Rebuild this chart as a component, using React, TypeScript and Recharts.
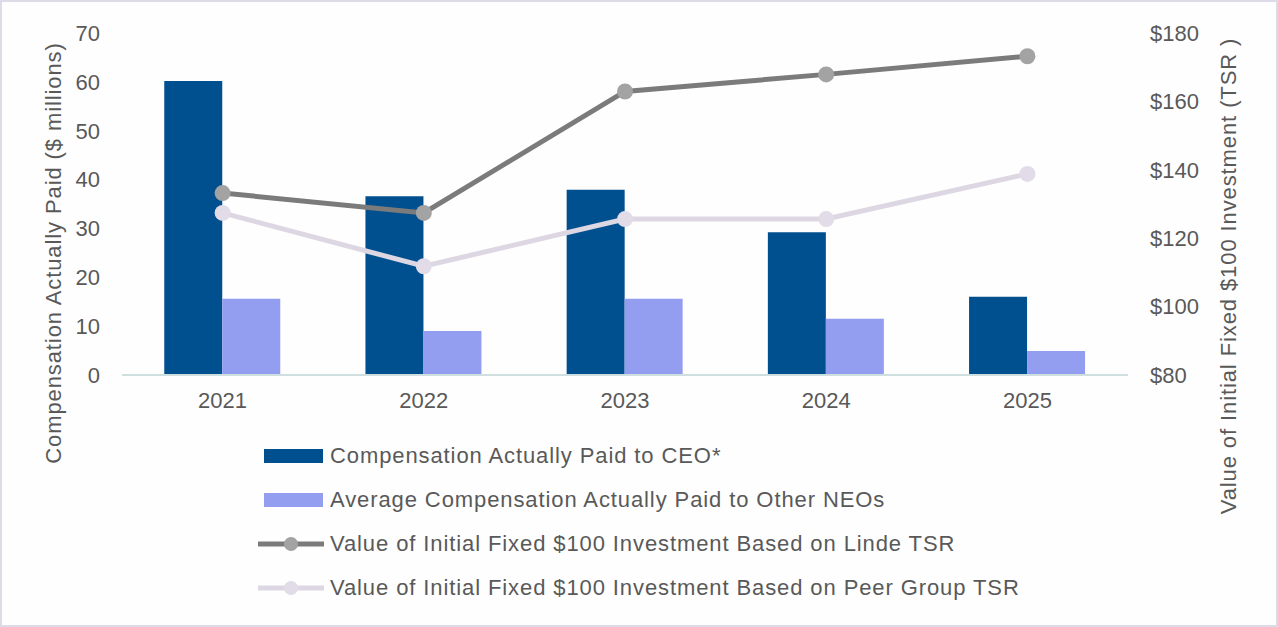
import React from 'react';
import {
    ComposedChart,
    Bar,
    Line,
    XAxis,
    YAxis,
    Legend,
} from 'recharts';

// fiscal years on the x axis
const years = ['2021', '2022', '2023', '2024', '2025'];

// compensation actually paid, $ millions (left axis)
const ceoPay = [60.2, 36.6, 37.9, 29.2, 16.0];
const neoPay = [15.6, 9.0, 15.6, 11.5, 4.9];

// value of $100 investment (right axis)
const lindeTsr = [133.2, 127.4, 162.9, 167.9, 173.2];
const peerTsr = [127.4, 111.8, 125.6, 125.6, 138.8];

const leftTicks = [0, 10, 20, 30, 40, 50, 60, 70];
const rightTicks = [80, 100, 120, 140, 160, 180];

const seriesNames = {
    ceo: 'Compensation Actually Paid to CEO*',
    neo: 'Average Compensation Actually Paid to Other NEOs',
    linde: 'Value of Initial Fixed $100 Investment Based on Linde TSR',
    peer: 'Value of Initial Fixed $100 Investment Based on Peer Group TSR',
};

const COLORS = {
    ceo: '#004f8f',
    neo: '#939ef0',
    linde: '#7b7b7b',
    lindeDot: '#a3a3a3',
    peer: '#dcd7e2',
    peerDot: '#e1dce7',
    text: '#595959',
    axis: '#cfdfe0',
};

const FONT = 'Liberation Sans, Arial, sans-serif';
const FONT_SIZE = 22;

const data = years.map((year, i) => ({
    year,
    ceo: ceoPay[i],
    neo: neoPay[i],
    linde: lindeTsr[i],
    peer: peerTsr[i],
}));

const legendItems = [
    { key: 'ceo', kind: 'bar', color: COLORS.ceo },
    { key: 'neo', kind: 'bar', color: COLORS.neo },
    { key: 'linde', kind: 'line', color: COLORS.linde, dot: COLORS.lindeDot },
    { key: 'peer', kind: 'line', color: COLORS.peer, dot: COLORS.peerDot },
];

const ChartLegend = () => (
    <div style={{ fontFamily: FONT, fontSize: FONT_SIZE, color: COLORS.text, letterSpacing: 0.9, whiteSpace: 'nowrap' }}>
        {legendItems.map(item => (
            <div key={item.key} style={{ display: 'flex', alignItems: 'center', height: 44 }}>
                <svg width={72} height={20} style={{ flex: 'none' }}>
                    {item.kind === 'bar' ? (
                        <rect x={6} y={3} width={59} height={14} fill={item.color} />
                    ) : (
                        <>
                            <line x1={0} y1={10} x2={66} y2={10} stroke={item.color} strokeWidth={5} />
                            <circle cx={33} cy={10} r={7} fill={item.dot} />
                        </>
                    )}
                </svg>
                <span>{seriesNames[item.key as keyof typeof seriesNames]}</span>
            </div>
        ))}
    </div>
);

// rotated axis title; own prop names so the axis' cloned props don't move it
const AxisTitle = ({ px, py, text }: { px: number; py: number; text: string }) => (
    <text
        x={px}
        y={py}
        transform={`rotate(-90 ${px} ${py})`}
        textAnchor="middle"
        dominantBaseline="central"
        fill={COLORS.text}
        fontSize={FONT_SIZE}
        fontFamily={FONT}
        letterSpacing={0.9}
    >
        {text}
    </text>
);

const tickStyle = { fill: COLORS.text, fontSize: FONT_SIZE, fontFamily: FONT };

export default function App() {
    return (
        <div
            style={{
                position: 'fixed',
                left: 0,
                top: 0,
                width: 1278,
                height: 627,
                boxSizing: 'border-box',
                border: '2px solid #dedbe9',
                background: '#fefefe',
            }}
        >
            <ComposedChart
                width={1274}
                height={623}
                data={data}
                margin={{ top: 31, right: 0, bottom: 200, left: -2 }}
                barCategoryGap="21%"
                barGap={0}
                style={{ position: 'absolute', left: 0, top: 0 }}
            >
                <XAxis
                    dataKey="year"
                    tickLine={false}
                    tickSize={0}
                    tickMargin={17}
                    height={50}
                    stroke={COLORS.axis}
                    strokeWidth={2}
                    tick={tickStyle}
                />
                <YAxis
                    yAxisId="left"
                    width={122}
                    domain={[0, 70]}
                    ticks={leftTicks}
                    axisLine={false}
                    tickLine={false}
                    tickSize={0}
                    tickMargin={22}
                    tick={tickStyle}
                    label={<AxisTitle px={51} py={251} text="Compensation Actually Paid ($ millions)" />}
                />
                <YAxis
                    yAxisId="right"
                    orientation="right"
                    width={148}
                    domain={[80, 180]}
                    ticks={rightTicks}
                    axisLine={false}
                    tickLine={false}
                    tickSize={0}
                    tickMargin={22}
                    tick={tickStyle}
                    tickFormatter={(v: number) => `$${v}`}
                    label={<AxisTitle px={1226} py={274} text="Value of Initial Fixed $100 Investment (TSR )" />}
                />
                <Bar yAxisId="left" dataKey="ceo" name={seriesNames.ceo} fill={COLORS.ceo} isAnimationActive={false} />
                <Bar yAxisId="left" dataKey="neo" name={seriesNames.neo} fill={COLORS.neo} isAnimationActive={false} />
                <Line
                    yAxisId="right"
                    dataKey="linde"
                    name={seriesNames.linde}
                    stroke={COLORS.linde}
                    strokeWidth={5}
                    dot={{ r: 8, fill: COLORS.lindeDot, stroke: 'none' }}
                    isAnimationActive={false}
                />
                <Line
                    yAxisId="right"
                    dataKey="peer"
                    name={seriesNames.peer}
                    stroke={COLORS.peer}
                    strokeWidth={5}
                    dot={{ r: 8, fill: COLORS.peerDot, stroke: 'none' }}
                    isAnimationActive={false}
                />
                <Legend
                    layout="vertical"
                    align="center"
                    verticalAlign="middle"
                    content={<ChartLegend />}
                    wrapperStyle={{ position: 'absolute', left: 256, top: 432, width: 'auto' }}
                />
            </ComposedChart>
        </div>
    );
}
